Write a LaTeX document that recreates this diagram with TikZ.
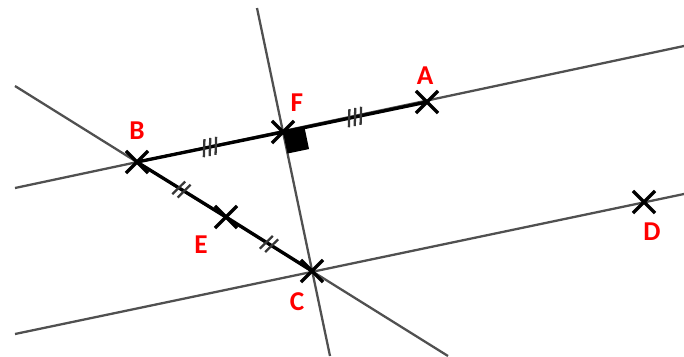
\documentclass[tikz,border=0pt]{standalone}
\usepackage{fontspec}
\setmainfont{Carlito}
\usepackage{tikz}
\usetikzlibrary{calc,positioning,shapes.misc,decorations.markings}
\definecolor{linegray}{RGB}{80,80,80}
\definecolor{tickgray}{RGB}{55,55,55}
\definecolor{ptred}{RGB}{255,0,0}

\begin{document}
\begin{tikzpicture}[x=0.02cm,y=-0.02cm,
axis/.style={draw=linegray,line width=1.3pt},
seg/.style={draw,line width=1.9pt},
pt/.style={draw,cross out,line width=2pt,minimum size=0.37cm,inner sep=0pt},
lab/.style={text=ptred,font=\fontsize{15.5}{18}\selectfont\bfseries,inner sep=0pt},
tickmark/.style={draw=tickgray,line width=1.3pt},
tickii/.style={postaction={decorate},decoration={markings,mark=at position .5 with
  {\foreach \k in {-.5,.5}{\draw[tickmark] (\k*3.6pt-1.2pt,-5pt)--(\k*3.6pt+1.2pt,5pt);}}}},
tickiii/.style={postaction={decorate},decoration={markings,mark=at position .5 with
  {\foreach \k in {-1,0,1}{\draw[tickmark] (\k*3.4pt-1.2pt,-5pt)--(\k*3.4pt+1.2pt,5pt);}}}}]
\useasboundingbox (0,0) rectangle (684,356);
% points
\coordinate (A) at (427,102);
\coordinate (B) at (137,162);
\coordinate (C) at (312,271);
\coordinate (D) at (644,202);
\coordinate (E) at (226,217);
\coordinate (F) at (283,132);
% ends of the lines
\coordinate (abW) at (15,188);  \coordinate (abE) at (684,46);
\coordinate (cdW) at (15,334);  \coordinate (cdE) at (684,194);
\coordinate (bcN) at (15,86);   \coordinate (bcS) at (448,356);
\coordinate (fcN) at (257,8);   \coordinate (fcS) at (330,356);
\draw[axis] (abW)--(abE);
\draw[axis] (cdW)--(cdE);
\draw[axis] (bcN)--(bcS);
\draw[axis] (fcN)--(fcS);
% segments with equal marks
\draw[seg,tickiii] (B)--(F);
\draw[seg,tickiii] (F)--(A);
\draw[seg,tickii] (B)--(E);
\draw[seg,tickii] (E)--(C);
% right angle at F
\coordinate (fa) at ($(F)!0.44cm!(A)$);
\coordinate (fc) at ($(F)!0.44cm!(C)$);
\fill (F)--(fa)--($(fa)+(fc)-(F)$)--(fc)--cycle;
% crosses and names
\foreach \p in {A,B,C,D,E,F} \node[pt] (x\p) at (\p) {};
\node[lab,above=0.12cm of xA,xshift=-0.04cm] (lA) {A};
\node[lab,above=0.22cm of xB] (lB) {B};
\node[lab,below=0.2cm of xC,xshift=-0.3cm] (lC) {C};
\node[lab,below=0.19cm of xD,xshift=0.16cm] (lD) {D};
\node[lab,below=0.14cm of xE,xshift=-0.5cm] (lE) {E};
\node[lab,above=0.19cm of xF,xshift=0.28cm] (lF) {F};
\end{tikzpicture}
\end{document}
